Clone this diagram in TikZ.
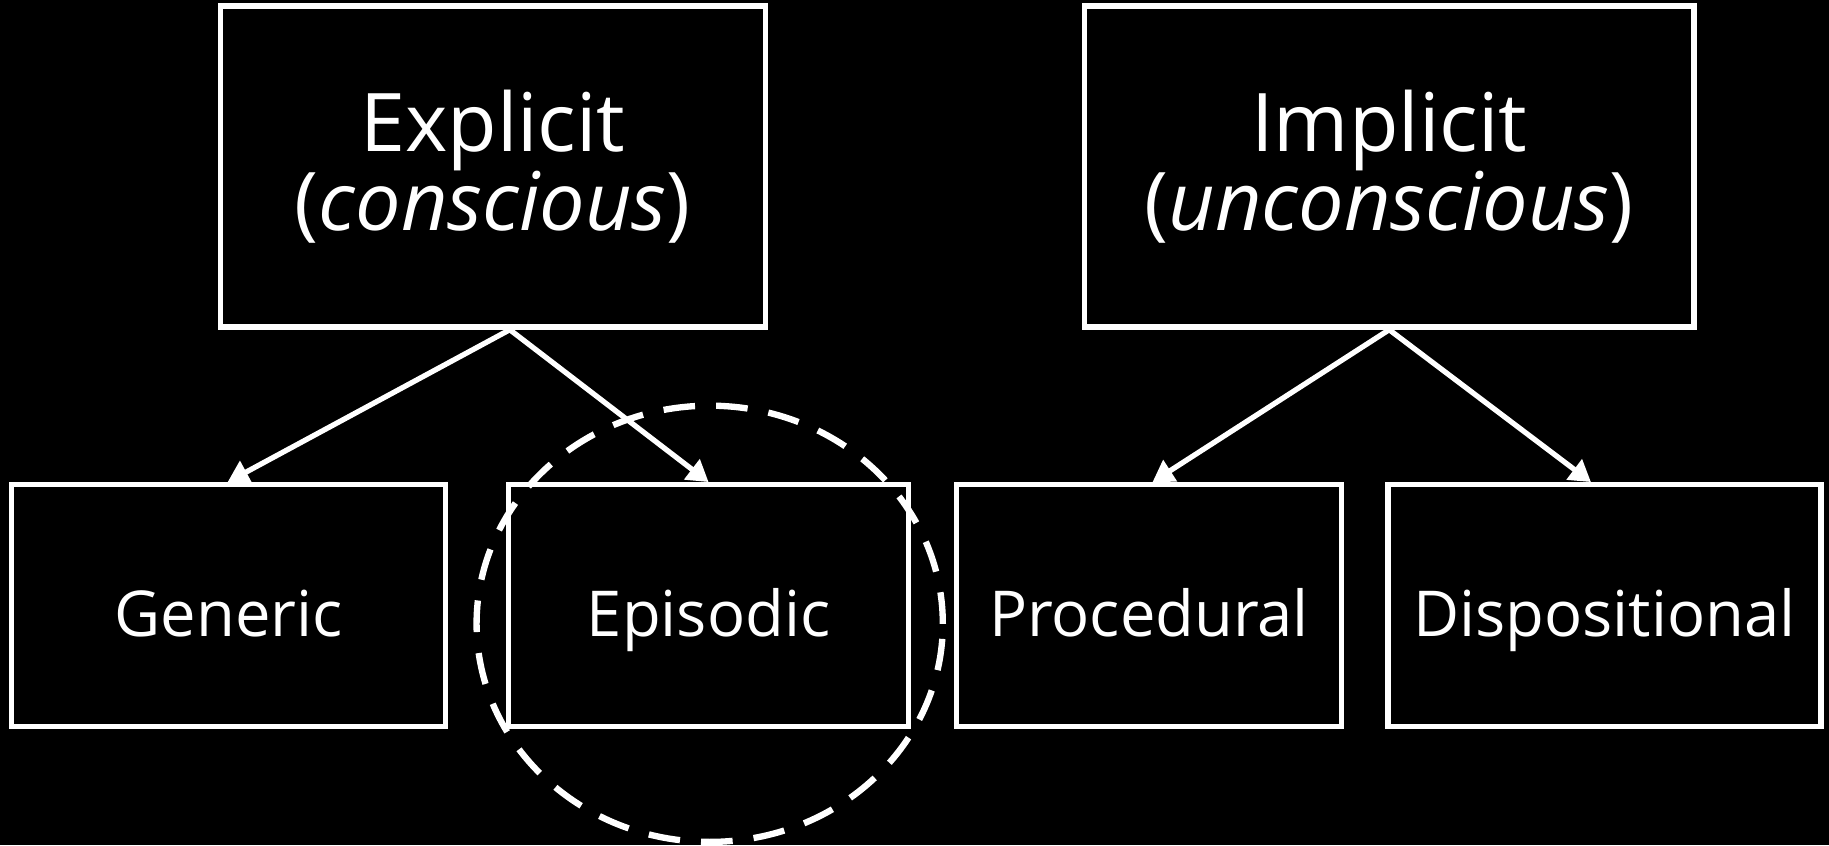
\documentclass[tikz,border=0pt]{standalone}
\usepackage{fontspec}
\setmainfont{Open Sans}
\usetikzlibrary{arrows.meta}

\begin{document}
\begin{tikzpicture}[x=0.01cm, y=-0.01cm,
  box/.style={draw=white, line width=1.5pt, fill=black, text=white, inner sep=0pt},
  topbox/.style={box, minimum height=3.21cm, align=center, font=\fontsize{23}{22.6}\selectfont},
  leafbox/.style={box, minimum height=2.42cm, text height=17.4pt, text depth=0pt, font=\fontsize{18}{22}\selectfont},
  arrow/.style={draw=white, line width=1.5pt, -{Triangle[length=6pt, width=7pt]}},
  ring/.style={draw=white, line width=1.8pt, dash pattern=on 9pt off 6pt}]
\fill [black] (0, 0) rectangle (1829, 845);
% top level
\node [topbox, minimum width=5.45cm] (explicit) at (492.8, 166.5) {Explicit\\(\textit{conscious})};
\node [topbox, minimum width=6.09cm] (implicit) at (1389.2, 166.5) {Implicit\\(\textit{unconscious})};
% bottom level
\node [leafbox, minimum width=4.34cm] (generic) at (228.6, 605.8) {Generic};
\node [leafbox, minimum width=4.0cm] (episodic) at (708.6, 605.8) {Episodic};
\node [leafbox, minimum width=3.85cm] (procedural) at (1149, 605.8) {Procedural};
\node [leafbox, minimum width=4.33cm] (dispositional) at (1604.5, 605.8) {Dispositional};
% connectors
\draw [arrow] ([xshift=0.17cm]explicit.south) -- ([xshift=-0.01cm]generic.north);
\draw [arrow] ([xshift=0.17cm]explicit.south) -- (episodic.north);
\draw [arrow] (implicit.south) -- ([xshift=0.035cm]procedural.north);
\draw [arrow] (implicit.south) -- ([xshift=-0.135cm]dispositional.north);
% highlight
\draw [ring] (709.7, 623.8) ellipse [x radius=2.33cm, y radius=2.18cm];
\end{tikzpicture}
\end{document}
